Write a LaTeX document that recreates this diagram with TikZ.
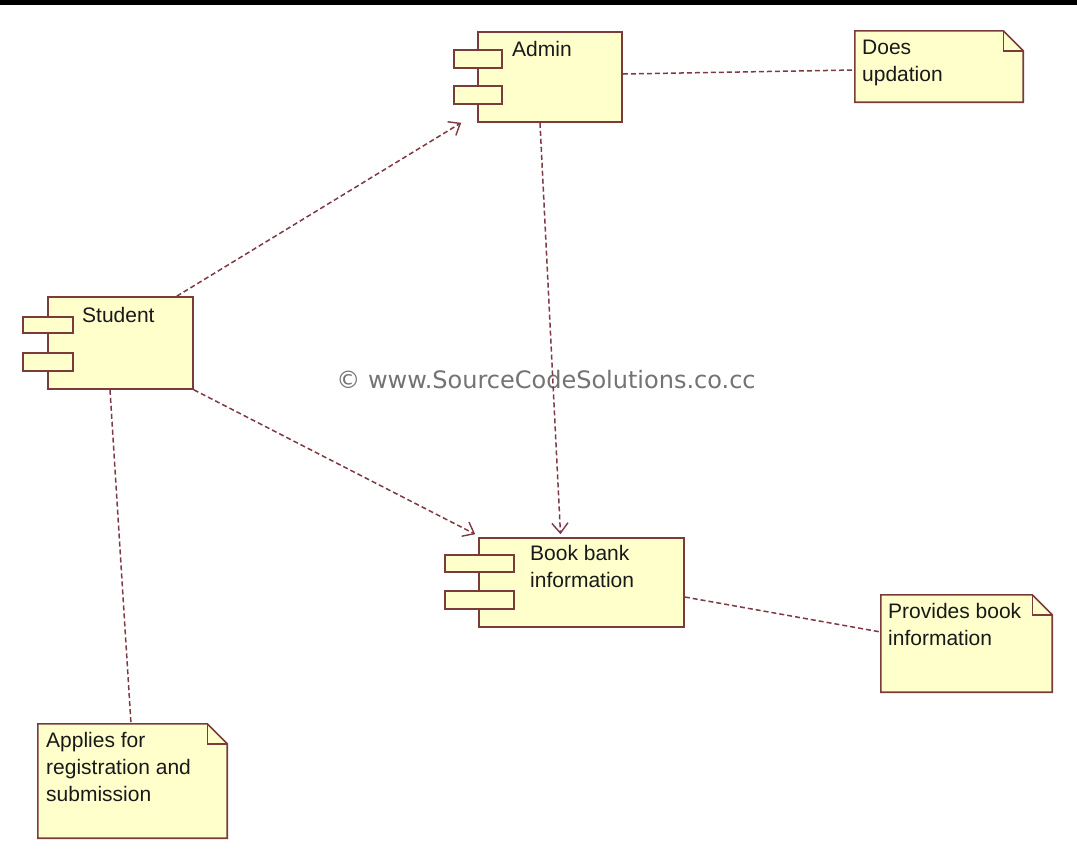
\documentclass[tikz,border=0pt]{standalone}
\usepackage{fontspec}
\setmainfont{Liberation Sans}
\newfontfamily\wmfont{DejaVu Sans}
\usetikzlibrary{arrows.meta}
\definecolor{umlborder}{HTML}{7A3B3B}
\definecolor{umlfill}{HTML}{FFFFCC}
\definecolor{umlline}{HTML}{7E3A44}
\begin{document}
\begin{tikzpicture}[x=1pt,y=-1pt,
  comp/.style={draw=umlborder, fill=umlfill, line width=1.6pt, inner sep=0pt},
  port/.style={draw=umlborder, fill=umlfill, line width=1.6pt},
  notebg/.style={draw=none, inner sep=0pt},
  notepath/.style={draw=umlborder, fill=umlfill, line width=1.6pt, line join=miter},
  lbl/.style={anchor=north west, inner sep=0pt, font=\fontsize{21}{27}\selectfont, text=black!90, align=left},
  dep/.style={draw=umlline, line width=1.5pt, dash pattern=on 5pt off 3pt, -{Straight Barb[length=10pt,width=16pt,line width=1.4pt]}},
  anc/.style={draw=umlline, line width=1.5pt, dash pattern=on 5pt off 3pt},
  wm/.style={font=\wmfont\fontsize{24}{28}\selectfont, anchor=base, inner sep=0pt}
]
\useasboundingbox (0,0) rectangle (1077,860);
\fill[white] (0,0) rectangle (1077,860);
\fill[black] (0,0) rectangle (1077,5);

% components
\node[comp, minimum width=144pt, minimum height=90pt] (admin) at (550,77) {};
\draw[port] (454,50) rectangle (502,68);
\draw[port] (454,86) rectangle (502,104);
\node[lbl] (tadmin) at (512,41) {Admin};

\node[comp, minimum width=145pt, minimum height=92pt] (student) at (120.5,343) {};
\draw[port] (23,317) rectangle (73,333);
\draw[port] (23,353) rectangle (73,371);
\node[lbl] (tstudent) at (82,307) {Student};

\node[comp, minimum width=205pt, minimum height=89pt] (book) at (581.5,582.5) {};
\draw[port] (445,555) rectangle (514,572);
\draw[port] (445,591) rectangle (514,609);
\node[lbl] (tbook) at (530,545) {Book bank\\information};

% notes
\node[notebg, minimum width=168pt, minimum height=71pt] (n1) at (939,66.5) {};
\node[notebg, minimum width=171pt, minimum height=97pt] (n2) at (966.5,643.5) {};
\node[notebg, minimum width=189pt, minimum height=114pt] (n3) at (132.5,781) {};
\foreach \n in {n1,n2,n3}{
  \draw[notepath] (\n.north west) -- ([xshift=-20pt]\n.north east) -- ([yshift=-20pt]\n.north east) -- (\n.south east) -- (\n.south west) -- cycle;
  \draw[umlborder, line width=1.4pt] ([xshift=-20pt]\n.north east) -- ([xshift=-20pt,yshift=-20pt]\n.north east) -- ([yshift=-20pt]\n.north east);
}
\node[lbl] (tn1) at (862,40) {Does\\updation};
\node[lbl] (tn2) at (888,603) {Provides book\\information};
\node[lbl] (tn3) at (46,732) {Applies for\\registration and\\submission};

% watermark
\node[wm, text=black!55] (wm) at (546,388) {© www.SourceCodeSolutions.co.cc};

% connectors
\draw[dep] ([xshift=-17pt]student.north east) -- ([xshift=-16pt]admin.south west);
\draw[dep] (student.south east) -- ([xshift=-3pt,yshift=3pt]book.north west);
\draw[dep] ([xshift=-10pt]admin.south) -- ([xshift=-21pt,yshift=3pt]book.north);
\draw[anc] ([yshift=3pt]admin.east) -- ([yshift=-3.5pt]n1.west);
\draw[anc] ([yshift=-14.5pt]book.east) -- ([yshift=11.5pt]n2.west);
\draw[anc] ([xshift=-10.5pt]student.south) -- ([xshift=-1.5pt]n3.north);
\end{tikzpicture}
\end{document}
